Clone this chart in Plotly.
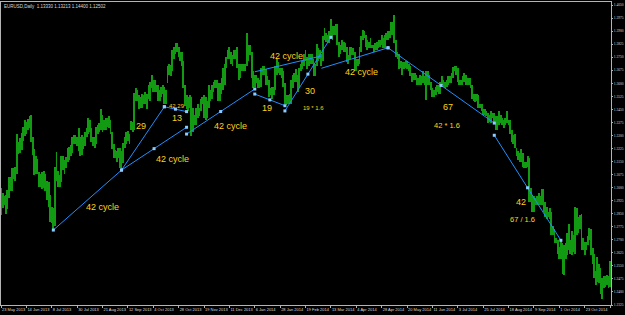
import pandas as pd
import plotly.graph_objects as go

# ---------------- data (EURUSD daily) ----------------
high = [
    1.2998, 1.2967,
    1.2951, 1.2955, 1.2985, 1.3059, 1.3062,
    1.3110, 1.3112, 1.3118, 1.3306, 1.3260,
    1.3283, 1.3312, 1.3346, 1.3389, 1.3375,
    1.3393, 1.3413, 1.3416, 1.3290, 1.3220,
    1.3183, 1.3167, 1.3089, 1.3080, 1.3090,
    1.3098, 1.3080, 1.3040, 1.3030, 1.2960,
    1.2890, 1.2880, 1.3120, 1.3207, 1.3094,
    1.3070, 1.3180, 1.3180, 1.3160, 1.3176,
    1.3225, 1.3235, 1.3245, 1.3290, 1.3300,
    1.3300, 1.3290, 1.3345, 1.3290, 1.3300,
    1.3290, 1.3320, 1.3345, 1.3400, 1.3390,
    1.3345, 1.3290, 1.3290, 1.3350, 1.3360,
    1.3370, 1.3450, 1.3420, 1.3390, 1.3400,
    1.3400, 1.3410, 1.3390, 1.3320, 1.3250,
    1.3215, 1.3210, 1.3230, 1.3230, 1.3210,
    1.3255, 1.3290, 1.3320, 1.3325, 1.3310,
    1.3385, 1.3380, 1.3545, 1.3570, 1.3560,
    1.3530, 1.3520, 1.3540, 1.3530, 1.3550,
    1.3540, 1.3590, 1.3610, 1.3645, 1.3620,
    1.3620, 1.3590, 1.3590, 1.3560, 1.3580,
    1.3590, 1.3580, 1.3560, 1.3700, 1.3710,
    1.3705, 1.3790, 1.3810, 1.3830, 1.3832,
    1.3810, 1.3780, 1.3780, 1.3730, 1.3590,
    1.3530, 1.3520, 1.3530, 1.3520, 1.3460,
    1.3420, 1.3460, 1.3480, 1.3460, 1.3510,
    1.3520, 1.3530, 1.3520, 1.3500, 1.3590,
    1.3560, 1.3590, 1.3610, 1.3620, 1.3620,
    1.3600, 1.3600, 1.3630, 1.3690, 1.3710,
    1.3750, 1.3790, 1.3810, 1.3780, 1.3760,
    1.3790, 1.3790, 1.3810, 1.3710, 1.3710,
    1.3710, 1.3710, 1.3710, 1.3890,
    1.3820, 1.3820, 1.3780, 1.3670,
    1.3650, 1.3650, 1.3630, 1.3620, 1.3690,
    1.3700, 1.3700, 1.3680, 1.3640, 1.3620,
    1.3570, 1.3580, 1.3580, 1.3700, 1.3740,
    1.3720, 1.3690, 1.3690, 1.3670, 1.3600,
    1.3530, 1.3530, 1.3540, 1.3620, 1.3650,
    1.3660, 1.3680, 1.3650, 1.3690, 1.3710,
    1.3730, 1.3770, 1.3790, 1.3750, 1.3770,
    1.3770, 1.3770, 1.3740, 1.3710, 1.3825,
    1.3800, 1.3790, 1.3770, 1.3870, 1.3915,
    1.3890, 1.3880, 1.3900, 1.3967, 1.3930,
    1.3930, 1.3940, 1.3940, 1.3840, 1.3820,
    1.3850, 1.3840, 1.3830, 1.3810, 1.3760,
    1.3810, 1.3810, 1.3800, 1.3780, 1.3740,
    1.3740, 1.3810, 1.3870, 1.3905, 1.3900,
    1.3880, 1.3850, 1.3840, 1.3860, 1.3820,
    1.3820, 1.3830, 1.3840, 1.3850, 1.3850,
    1.3880, 1.3860, 1.3880, 1.3890, 1.3900,
    1.3900, 1.3950, 1.3950, 1.3993, 1.3850,
    1.3780, 1.3770, 1.3730, 1.3720, 1.3720,
    1.3730, 1.3730, 1.3710, 1.3700, 1.3660,
    1.3660, 1.3660, 1.3650, 1.3630, 1.3650,
    1.3640, 1.3670, 1.3640, 1.3670, 1.3670,
    1.3650, 1.3610, 1.3570, 1.3560, 1.3580,
    1.3590, 1.3590, 1.3610, 1.3640, 1.3620,
    1.3610, 1.3620, 1.3640, 1.3640, 1.3660,
    1.3695, 1.3700, 1.3700, 1.3690, 1.3620,
    1.3620, 1.3640, 1.3660, 1.3650, 1.3630,
    1.3630, 1.3630, 1.3590, 1.3540, 1.3540,
    1.3540, 1.3530, 1.3480, 1.3480, 1.3450,
    1.3450, 1.3440, 1.3430, 1.3420, 1.3440,
    1.3430, 1.3430, 1.3410, 1.3410, 1.3440,
    1.3420, 1.3400, 1.3390, 1.3400, 1.3440,
    1.3390, 1.3390, 1.3330, 1.3300, 1.3310,
    1.3230, 1.3210, 1.3200, 1.3220, 1.3200,
    1.3150, 1.3150, 1.3180, 1.3170, 1.3000,
    1.2960, 1.2950, 1.2940, 1.2950, 1.2970,
    1.2950, 1.2990, 1.2990, 1.2920, 1.2890,
    1.2860, 1.2880, 1.2860, 1.2780, 1.2760,
    1.2710, 1.2700, 1.2660, 1.2700, 1.2680,
    1.2670, 1.2680, 1.2740, 1.2790, 1.2700,
    1.2750, 1.2730, 1.2890, 1.2880, 1.2830,
    1.2840, 1.2850, 1.2710, 1.2690, 1.2690,
    1.2720, 1.2770, 1.2760, 1.2650, 1.2620,
    1.2520, 1.2600, 1.2560, 1.2540, 1.2480,
    1.2490, 1.2490, 1.2500, 1.2490, 1.2577,
]
low = [
    1.2842, 1.2880,
    1.2900, 1.2847, 1.2876, 1.2938, 1.2978,
    1.2980, 1.3047, 1.3040, 1.3080, 1.3195,
    1.3200, 1.3214, 1.3268, 1.3298, 1.3310,
    1.3330, 1.3340, 1.3263, 1.3188, 1.3070,
    1.3076, 1.3081, 1.3006, 1.3006, 1.2990,
    1.3000, 1.2983, 1.2930, 1.2890, 1.2805,
    1.2795, 1.2755, 1.2780, 1.3040, 1.3006,
    1.3005, 1.3030, 1.3100, 1.3080, 1.3110,
    1.3150, 1.3160, 1.3180, 1.3200, 1.3250,
    1.3250, 1.3240, 1.3210, 1.3180, 1.3190,
    1.3220, 1.3240, 1.3290, 1.3310, 1.3320,
    1.3260, 1.3240, 1.3230, 1.3250, 1.3310,
    1.3320, 1.3330, 1.3320, 1.3330, 1.3330,
    1.3350, 1.3340, 1.3310, 1.3220, 1.3170,
    1.3170, 1.3150, 1.3170, 1.3110, 1.3105,
    1.3140, 1.3230, 1.3250, 1.3270, 1.3250,
    1.3330, 1.3320, 1.3330, 1.3500, 1.3500,
    1.3450, 1.3460, 1.3460, 1.3480, 1.3480,
    1.3450, 1.3510, 1.3500, 1.3570, 1.3550,
    1.3550, 1.3550, 1.3500, 1.3500, 1.3520,
    1.3540, 1.3480, 1.3480, 1.3600, 1.3650,
    1.3640, 1.3670, 1.3740, 1.3770, 1.3780,
    1.3750, 1.3730, 1.3700, 1.3570, 1.3470,
    1.3450, 1.3440, 1.3460, 1.3295, 1.3320,
    1.3360, 1.3360, 1.3400, 1.3410, 1.3440,
    1.3480, 1.3400, 1.3390, 1.3400, 1.3460,
    1.3500, 1.3510, 1.3550, 1.3570, 1.3570,
    1.3500, 1.3500, 1.3540, 1.3560, 1.3590,
    1.3690, 1.3740, 1.3740, 1.3710, 1.3700,
    1.3740, 1.3740, 1.3690, 1.3620, 1.3630,
    1.3670, 1.3670, 1.3670, 1.3700,
    1.3730, 1.3760, 1.3630, 1.3573,
    1.3580, 1.3600, 1.3570, 1.3570, 1.3580,
    1.3650, 1.3650, 1.3590, 1.3590, 1.3520,
    1.3530, 1.3510, 1.3530, 1.3560, 1.3650,
    1.3660, 1.3650, 1.3630, 1.3580, 1.3480,
    1.3477, 1.3480, 1.3480, 1.3480, 1.3570,
    1.3610, 1.3610, 1.3550, 1.3580, 1.3670,
    1.3680, 1.3700, 1.3730, 1.3680, 1.3700,
    1.3710, 1.3710, 1.3640, 1.3640, 1.3700,
    1.3730, 1.3740, 1.3700, 1.3730, 1.3850,
    1.3840, 1.3830, 1.3830, 1.3860, 1.3850,
    1.3880, 1.3880, 1.3820, 1.3750, 1.3770,
    1.3790, 1.3780, 1.3780, 1.3720, 1.3710,
    1.3740, 1.3760, 1.3760, 1.3670, 1.3673,
    1.3700, 1.3710, 1.3780, 1.3850, 1.3860,
    1.3810, 1.3790, 1.3800, 1.3800, 1.3800,
    1.3780, 1.3790, 1.3790, 1.3800, 1.3810,
    1.3820, 1.3800, 1.3800, 1.3850, 1.3850,
    1.3860, 1.3880, 1.3880, 1.3830, 1.3750,
    1.3740, 1.3680, 1.3690, 1.3650, 1.3680,
    1.3690, 1.3680, 1.3670, 1.3640, 1.3610,
    1.3620, 1.3620, 1.3590, 1.3590, 1.3590,
    1.3590, 1.3600, 1.3590, 1.3503, 1.3590,
    1.3590, 1.3560, 1.3520, 1.3520, 1.3530,
    1.3550, 1.3540, 1.3540, 1.3590, 1.3580,
    1.3570, 1.3580, 1.3590, 1.3600, 1.3600,
    1.3630, 1.3670, 1.3650, 1.3610, 1.3590,
    1.3590, 1.3590, 1.3610, 1.3590, 1.3590,
    1.3590, 1.3570, 1.3510, 1.3500, 1.3490,
    1.3500, 1.3460, 1.3460, 1.3440, 1.3420,
    1.3420, 1.3410, 1.3370, 1.3380, 1.3370,
    1.3400, 1.3370, 1.3330, 1.3330, 1.3360,
    1.3370, 1.3360, 1.3340, 1.3360, 1.3370,
    1.3360, 1.3310, 1.3260, 1.3250, 1.3230,
    1.3180, 1.3160, 1.3150, 1.3150, 1.3120,
    1.3110, 1.3110, 1.3120, 1.2920, 1.2920,
    1.2860, 1.2860, 1.2900, 1.2900, 1.2900,
    1.2900, 1.2900, 1.2860, 1.2830, 1.2820,
    1.2830, 1.2820, 1.2730, 1.2730, 1.2680,
    1.2680, 1.2620, 1.2590, 1.2590, 1.2501,
    1.2500, 1.2590, 1.2610, 1.2640, 1.2620,
    1.2610, 1.2630, 1.2620, 1.2730, 1.2740,
    1.2760, 1.2640, 1.2640, 1.2610, 1.2640,
    1.2670, 1.2700, 1.2610, 1.2560, 1.2480,
    1.2440, 1.2460, 1.2450, 1.2390, 1.2358,
    1.2420, 1.2430, 1.2440, 1.2420, 1.2430,
]

date_labels = ["23 May 2013", "14 Jun 2013", "8 Jul 2013", "30 Jul 2013", "21 Aug 2013",
               "12 Sep 2013", "4 Oct 2013", "28 Oct 2013", "19 Nov 2013", "11 Dec 2013",
               "6 Jan 2014", "28 Jan 2014", "19 Feb 2014", "13 Mar 2014", "4 Apr 2014",
               "28 Apr 2014", "20 May 2014", "11 Jun 2014", "3 Jul 2014", "25 Jul 2014",
               "18 Aug 2014", "9 Sep 2014", "1 Oct 2014", "23 Oct 2014", "14 Nov 2014"]
price_labels = ["1.4050", "1.3975", "1.3900", "1.3825", "1.3750", "1.3675", "1.3600",
                "1.3525", "1.3450", "1.3375", "1.3300", "1.3225", "1.3150", "1.3075",
                "1.3000", "1.2925", "1.2850", "1.2775", "1.2700", "1.2625", "1.2550",
                "1.2475", "1.2400", "1.2325"]

# trend lines drawn on the chart (date, price) -> (date, price)
line_start_date = ["2013-07-09", "2013-09-06", "2013-10-15", "2013-09-06", "2013-11-04",
                   "2014-01-06", "2014-01-31", "2014-01-06", "2014-03-05", "2014-05-02",
                   "2014-08-05"]
line_start_price = [1.2756, 1.3101, 1.3465, 1.3101, 1.3308, 1.3538, 1.3441, 1.3666,
                    1.3686, 1.3804, 1.3301]
line_end_date = ["2013-09-06", "2013-10-15", "2013-11-04", "2013-11-04", "2014-01-06",
                 "2014-01-31", "2014-03-13", "2014-03-05", "2014-05-02", "2014-08-05",
                 "2014-10-02"]
line_end_price = [1.3101, 1.3465, 1.3437, 1.3347, 1.3567, 1.3471, 1.3864, 1.3757,
                  1.3804, 1.3371, 1.2697]
line_handles = [[0, 1], [0, 1], [0, 0.5, 1], [0.5, 1], [0, 0.5, 1], [0, 0.5, 1],
                [0, 0.5, 1], [], [1], [0, 0.5, 1], [0, 0.5, 1]]

# text labels
label_text = ["42 cycle", "29", "42.29", "13", "42 cycle", "42 cycle", "19", "42 cycle",
              "30", "19 * 1.6", "42 cycle", "67", "42 * 1.6", "42", "67 / 1.6"]
label_date = ["2013-08-21", "2013-09-24", "2013-10-25", "2013-10-25", "2013-10-22",
              "2013-12-12", "2014-01-16", "2014-02-03", "2014-02-24", "2014-02-26",
              "2014-04-09", "2014-06-25", "2014-06-24", "2014-08-28", "2014-08-29"]
label_price = [1.2890, 1.3354, 1.3469, 1.3400, 1.3165, 1.3354, 1.3459, 1.3757, 1.3557,
               1.3456, 1.3666, 1.3462, 1.3358, 1.2917, 1.2816]
label_size = [9, 9, 6, 9, 9, 9, 9, 9, 9, 6, 9, 9, 7.5, 9, 7.5]

header = "EURUSD,Daily  1.13330 1.13213 1.14400 1.12502"

# ---------------- build ----------------
days = pd.bdate_range("2013-05-23", "2014-11-14")
days = days[~days.strftime("%m-%d").isin(["12-25", "01-01"])]
n = min(len(days), len(high), len(low))
pos = {d.strftime("%Y-%m-%d"): i for i, d in enumerate(days)}
idx = list(range(n))

BLUE = "#1E90FF"
GOLD = "#FFD21A"
AX = "#B4B4B4"
TXT = "#DADADA"

fig = go.Figure()
fig.add_trace(go.Bar(
    x=idx, base=low[:n], y=[h - l for h, l in zip(high[:n], low[:n])],
    width=0.55, marker=dict(color="#139A13", line=dict(width=0)),
    hoverinfo="skip", showlegend=False))

hx, hy = [], []
for sd, sp, ed, ep, hs in zip(line_start_date, line_start_price, line_end_date,
                              line_end_price, line_handles):
    x0, x1 = pos[sd], pos[ed]
    fig.add_trace(go.Scatter(x=[x0, x1], y=[sp, ep], mode="lines",
                             line=dict(color=BLUE, width=1), hoverinfo="skip",
                             showlegend=False))
    for f in hs:
        hx.append(x0 + (x1 - x0) * f)
        hy.append(sp + (ep - sp) * f)
fig.add_trace(go.Scatter(x=hx, y=hy, mode="markers",
                         marker=dict(symbol="square", size=3, color="#8CCBFF",
                                     line=dict(width=0)),
                         hoverinfo="skip", showlegend=False))

for t, d, p, s in zip(label_text, label_date, label_price, label_size):
    fig.add_annotation(x=pos[d], y=p, text=t, showarrow=False, xanchor="center",
                       yanchor="middle", font=dict(color=GOLD, size=s,
                                                   family="Liberation Sans"))

fig.add_annotation(xref="paper", yref="paper", x=0.002, y=0.985, text=header,
                   showarrow=False, xanchor="left", yanchor="middle",
                   font=dict(color=TXT, size=4.5, family="Liberation Sans"))

tick_pos = [pos[pd.to_datetime(s, format="%d %b %Y").strftime("%Y-%m-%d")]
            for s in date_labels]

fig.update_layout(
    width=625, height=315,
    margin=dict(l=1, r=14, t=2, b=10, pad=0),
    paper_bgcolor="black", plot_bgcolor="black",
    bargap=0, showlegend=False,
    xaxis=dict(range=[0, 384.6], tickvals=tick_pos, ticktext=date_labels,
               ticks="outside", ticklen=2, tickcolor=AX, tickwidth=1,
               ticklabelposition="outside right", tickangle=0,
               ticklabelstandoff=0,
               tickfont=dict(color=TXT, size=4, family="Liberation Sans"),
               showline=True, linecolor=AX, linewidth=1, mirror=True,
               showgrid=False, zeroline=False, automargin=False, fixedrange=True),
    yaxis=dict(range=[1.2325, 1.40673], side="right",
               tickvals=[float(s) for s in price_labels], ticktext=price_labels,
               ticks="outside", ticklen=1, tickcolor=AX, tickwidth=1,
               ticklabelstandoff=0,
               tickfont=dict(color=TXT, size=3.6, family="Liberation Sans Narrow"),
               showline=True, linecolor=AX, linewidth=1, mirror=True,
               showgrid=False, zeroline=False, automargin=False, fixedrange=True),
)

fig.write_html("out.html")
